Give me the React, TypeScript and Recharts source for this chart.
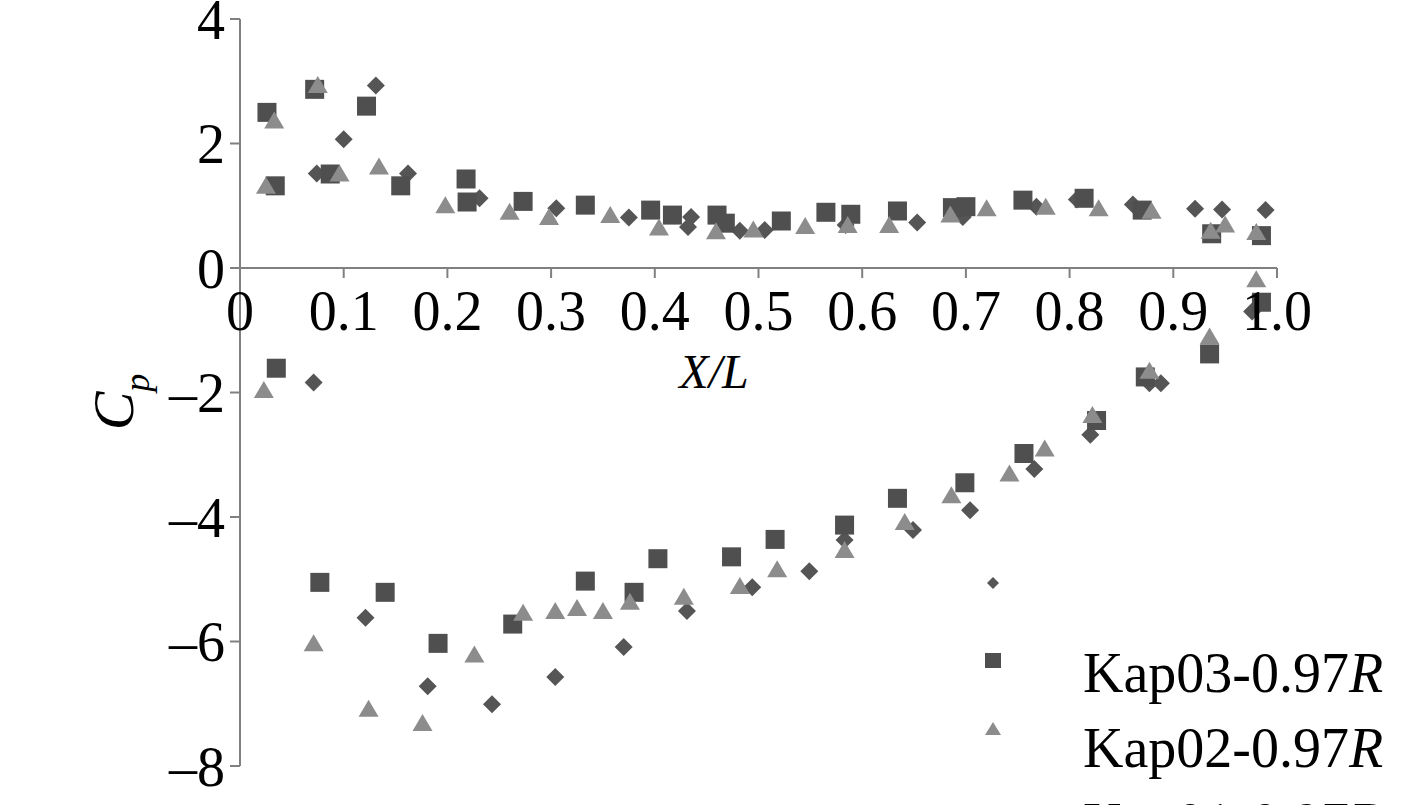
import React from 'react';
import {
  ScatterChart,
  Scatter,
  XAxis,
  YAxis,
  ReferenceLine,
  Customized,
} from 'recharts';

// pressure coefficient vs chord position
const kap03: [number, number][] = [
  [0.026, 2.5], [0.034, 1.32], [0.072, 2.87], [0.087, 1.51], [0.122, 2.6],
  [0.155, 1.32], [0.218, 1.43], [0.219, 1.06], [0.273, 1.07], [0.333, 1.01],
  [0.396, 0.93], [0.417, 0.85], [0.46, 0.85], [0.468, 0.72], [0.522, 0.755],
  [0.565, 0.895], [0.589, 0.863], [0.634, 0.916], [0.687, 0.97], [0.7, 0.985],
  [0.755, 1.09], [0.814, 1.12], [0.87, 0.93], [0.937, 0.55], [0.985, 0.52],
  [0.985, -0.55], [0.935, -1.38], [0.873, -1.75], [0.826, -2.45], [0.756, -2.98],
  [0.699, -3.45], [0.634, -3.7], [0.583, -4.13], [0.516, -4.36], [0.474, -4.64],
  [0.403, -4.67], [0.38, -5.21], [0.333, -5.03], [0.263, -5.72], [0.191, -6.03],
  [0.14, -5.21], [0.077, -5.05], [0.035, -1.61],
];

const kap02: [number, number][] = [
  [0.025, 1.32], [0.033, 2.37], [0.075, 2.94], [0.096, 1.52], [0.134, 1.63],
  [0.198, 1.01], [0.26, 0.905], [0.298, 0.82], [0.357, 0.85], [0.404, 0.65],
  [0.459, 0.59], [0.495, 0.62], [0.545, 0.675], [0.586, 0.69], [0.626, 0.69],
  [0.685, 0.86], [0.72, 0.96], [0.777, 0.985], [0.828, 0.96], [0.879, 0.92],
  [0.936, 0.6], [0.95, 0.7], [0.98, 0.58],
  [0.98, -0.18], [0.935, -1.1], [0.877, -1.65], [0.822, -2.36], [0.776, -2.9],
  [0.742, -3.3], [0.686, -3.65], [0.641, -4.08], [0.583, -4.53], [0.518, -4.84],
  [0.482, -5.11], [0.428, -5.28], [0.376, -5.36], [0.35, -5.51], [0.325, -5.46],
  [0.304, -5.51], [0.273, -5.54], [0.226, -6.21], [0.176, -7.31], [0.124, -7.08],
  [0.071, -6.03], [0.023, -1.96],
];

const kap01: [number, number][] = [
  [0.074, 1.52], [0.1, 2.07], [0.131, 2.93], [0.162, 1.52], [0.231, 1.12],
  [0.305, 0.96], [0.375, 0.81], [0.432, 0.66], [0.435, 0.82], [0.482, 0.6],
  [0.506, 0.61], [0.584, 0.69], [0.653, 0.73], [0.697, 0.82], [0.768, 0.985],
  [0.807, 1.1], [0.861, 1.02], [0.921, 0.95], [0.947, 0.94], [0.989, 0.93],
  [0.976, -0.7], [0.888, -1.85], [0.877, -1.85], [0.82, -2.68], [0.766, -3.23],
  [0.704, -3.89], [0.649, -4.21], [0.583, -4.37], [0.549, -4.87], [0.494, -5.13],
  [0.431, -5.51], [0.37, -6.09], [0.304, -6.57], [0.243, -7.01], [0.181, -6.72],
  [0.121, -5.62], [0.071, -1.84],
];

const xTicks = [0, 0.1, 0.2, 0.3, 0.4, 0.5, 0.6, 0.7, 0.8, 0.9, 1.0];
const yTicks = [4, 2, 0, -2, -4, -6, -8];

const FONT = '"Liberation Serif", "Times New Roman", serif';
const AXIS = '#808080';
const DARK = '#4f4f4f';
const DIAMOND = '#555555';
const LIGHT = '#8c8c8c';

const W = 1417;
const H = 850;
const MARGIN = { top: 19, right: 140, bottom: 54, left: 160 };
const Y_AXIS_W = 80;
const X_AXIS_H = 30;
const PLOT_H = H - MARGIN.top - MARGIN.bottom - X_AXIS_H;
const Y_MAX = 4;
const Y_MIN = -8;
// pixel row of Cp = 0, where the x axis crosses
const Y0 = MARGIN.top + (PLOT_H * Y_MAX) / (Y_MAX - Y_MIN);

const toPoints = (arr: [number, number][]) => arr.map(([x, y]) => ({ x, y }));

const SquareDot = (p: any) => (
  <rect x={p.cx - 9.5} y={p.cy - 9.5} width={19} height={19} fill={p.fill} />
);

const TriangleDot = (p: any) => (
  <polygon
    points={`${p.cx},${p.cy - 9} ${p.cx + 10},${p.cy + 8} ${p.cx - 10},${p.cy + 8}`}
    fill={p.fill}
  />
);

const DiamondDot = (p: any) => (
  <polygon
    points={`${p.cx},${p.cy - 9} ${p.cx + 9},${p.cy} ${p.cx},${p.cy + 9} ${p.cx - 9},${p.cy}`}
    fill={p.fill}
  />
);

const XTick = ({ x, payload }: any) => {
  const v = payload.value as number;
  return (
    <g>
      <line x1={x} x2={x} y1={Y0} y2={Y0 + 10} stroke={AXIS} strokeWidth={2} />
      <text x={x} y={Y0 + 62} textAnchor="middle" fontSize={56} fontFamily={FONT} fill="#000">
        {v === 0 ? '0' : v.toFixed(1)}
      </text>
    </g>
  );
};

const formatY = (v: number) => (v < 0 ? `\u2013${Math.abs(v)}` : String(v));

const legendRows = [
  { name: 'Kap03-0.97', color: DARK, marker: 'square', my: 660, ty: 692 },
  { name: 'Kap02-0.97', color: LIGHT, marker: 'triangle', my: 729, ty: 767 },
  { name: 'Kap01-0.97', color: DIAMOND, marker: 'diamond', my: 583, ty: 842 },
];

function Annotations() {
  const mx = 993;
  return (
    <g fontFamily={FONT} fill="#000">
      <text transform="rotate(-90, 133, 402)" x={133} y={402} fontSize={58} textAnchor="middle">
        <tspan fontStyle="italic">C</tspan>
        <tspan fontStyle="italic" fontSize={36} dy={16}>p</tspan>
      </text>
      <text x={714} y={388} fontSize={48} textAnchor="middle" fontStyle="italic">
        X/L
      </text>
      {legendRows.map((r) => (
        <g key={r.name}>
          {r.marker === 'square' && (
            <rect x={mx - 8} y={r.my - 7} width={16} height={15} fill={r.color} />
          )}
          {r.marker === 'triangle' && (
            <polygon
              points={`${mx},${r.my - 7} ${mx + 8},${r.my + 6} ${mx - 8},${r.my + 6}`}
              fill={r.color}
            />
          )}
          {r.marker === 'diamond' && (
            <polygon
              points={`${mx},${r.my - 6} ${mx + 6},${r.my} ${mx},${r.my + 6} ${mx - 6},${r.my}`}
              fill={r.color}
            />
          )}
          <text x={1083} y={r.ty} fontSize={56}>
            {r.name}
            <tspan fontStyle="italic">R</tspan>
          </text>
        </g>
      ))}
    </g>
  );
}

export default function App() {
  return (
    <div
      style={{
        position: 'absolute',
        left: 0,
        top: 0,
        width: W,
        height: 805,
        overflow: 'hidden',
        background: '#fff',
      }}
    >
      <ScatterChart width={W} height={H} margin={MARGIN}>
        <XAxis
          type="number"
          dataKey="x"
          domain={[0, 1]}
          ticks={xTicks}
          height={X_AXIS_H}
          axisLine={false}
          tickLine={false}
          tick={<XTick />}
          interval={0}
        />
        <YAxis
          type="number"
          dataKey="y"
          domain={[Y_MIN, Y_MAX]}
          ticks={yTicks}
          width={Y_AXIS_W}
          interval={0}
          tickFormatter={formatY}
          tickSize={10}
          tickMargin={5}
          axisLine={{ stroke: AXIS, strokeWidth: 2 }}
          tickLine={{ stroke: AXIS, strokeWidth: 2 }}
          tick={{ fontSize: 56, fontFamily: FONT, fill: '#000' }}
        />
        <ReferenceLine y={0} stroke={AXIS} strokeWidth={2} />
        <Scatter
          name="Kap01-0.97R"
          data={toPoints(kap01)}
          fill={DIAMOND}
          shape={DiamondDot}
          isAnimationActive={false}
        />
        <Scatter
          name="Kap03-0.97R"
          data={toPoints(kap03)}
          fill={DARK}
          shape={SquareDot}
          isAnimationActive={false}
        />
        <Scatter
          name="Kap02-0.97R"
          data={toPoints(kap02)}
          fill={LIGHT}
          shape={TriangleDot}
          isAnimationActive={false}
        />
        <Customized component={Annotations} />
      </ScatterChart>
    </div>
  );
}
